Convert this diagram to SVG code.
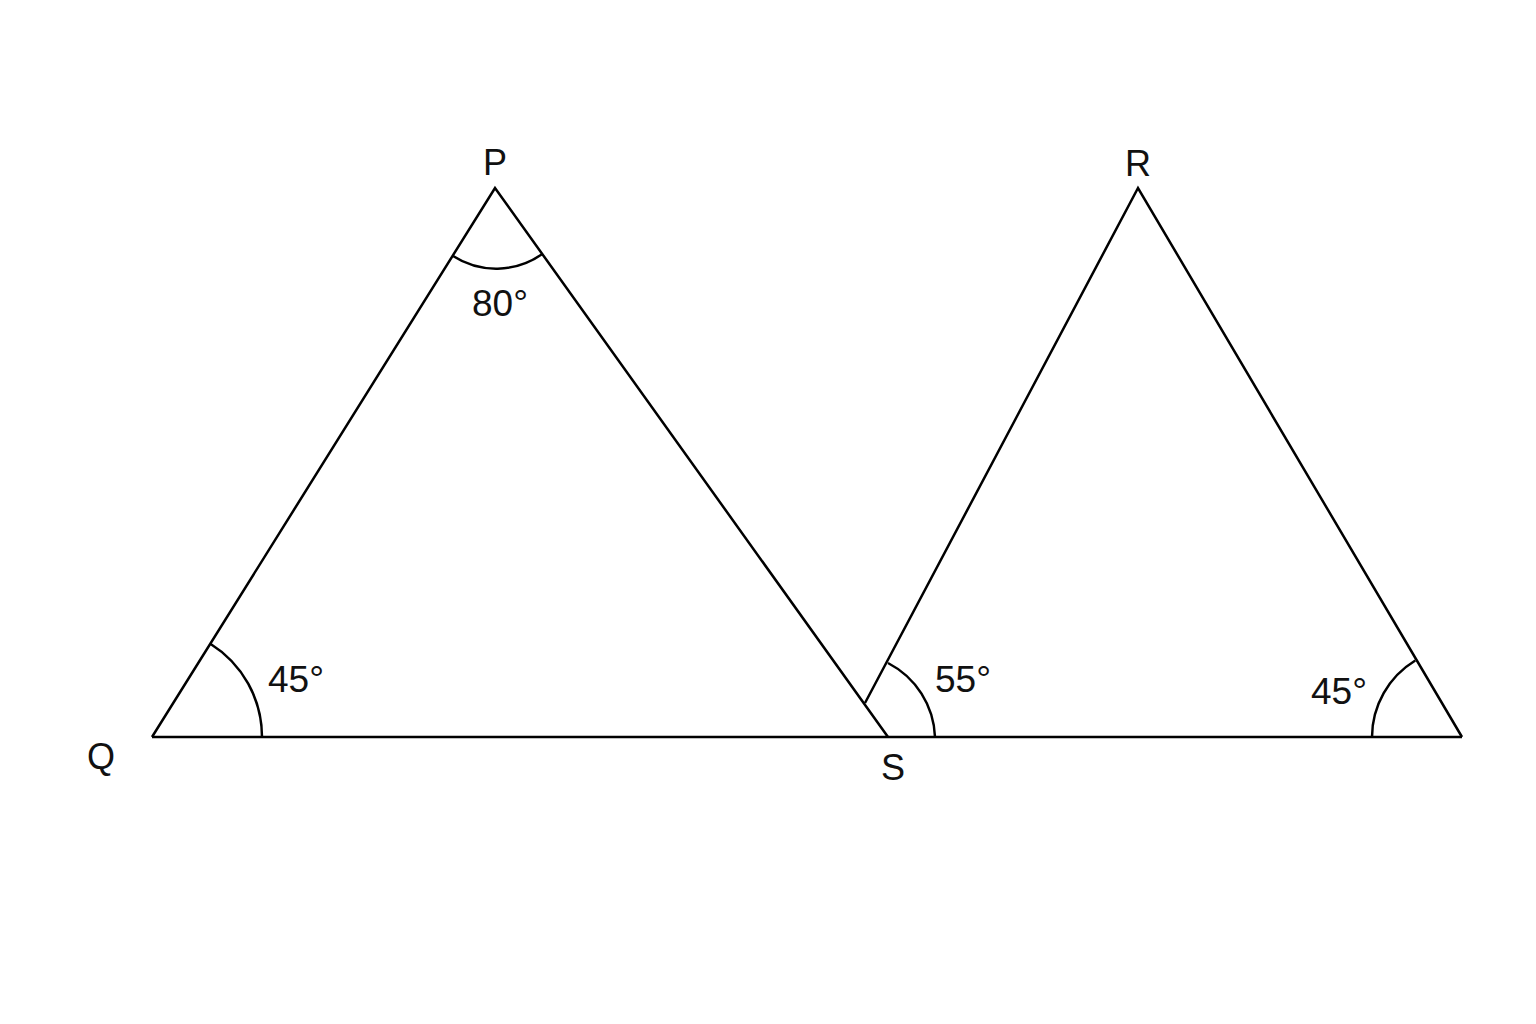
<svg xmlns="http://www.w3.org/2000/svg" width="1536" height="1024" viewBox="0 0 1536 1024">
<style>
.ln{fill:none;stroke:#000;stroke-width:2.5;stroke-linejoin:miter;stroke-linecap:butt}
.lb{font-family:"Liberation Sans",Arial,sans-serif;font-size:37px;fill:#111}
.vx{font-family:"Liberation Sans",Arial,sans-serif;font-size:36px;fill:#111}
</style>
<rect width="1536" height="1024" fill="#fff"/>
<g id="connectors">
<path class="ln" d="M152,737 L1462,737"/>
<path class="ln" d="M152,737 L495,188 L888,737"/>
<path class="ln" d="M865,703 L1138,188 L1462,737"/>
</g>
<g id="angle-Q">
<path class="ln" d="M262,737 A110,110 0 0 0 210.3,643.7"/>
<text class="lb" x="268" y="692">45°</text>
</g>
<g id="angle-P">
<path class="ln" d="M452.6,255.8 A80,80 0 0 0 542.3,254"/>
<text class="lb" x="472" y="316">80°</text>
</g>
<g id="angle-S">
<path class="ln" d="M935,737 A87,87 0 0 0 888,663"/>
<text class="lb" x="935" y="692">55°</text>
</g>
<g id="angle-right">
<path class="ln" d="M1372,737 A90,90 0 0 1 1415.3,660.5"/>
<text class="lb" x="1311" y="704">45°</text>
</g>
<g id="node-P"><text class="vx" x="495" y="175" text-anchor="middle">P</text></g>
<g id="node-R"><text class="vx" x="1138" y="176" text-anchor="middle">R</text></g>
<g id="node-Q"><text class="vx" x="101" y="769" text-anchor="middle">Q</text></g>
<g id="node-S"><text class="vx" x="893" y="780" text-anchor="middle">S</text></g>
</svg>
